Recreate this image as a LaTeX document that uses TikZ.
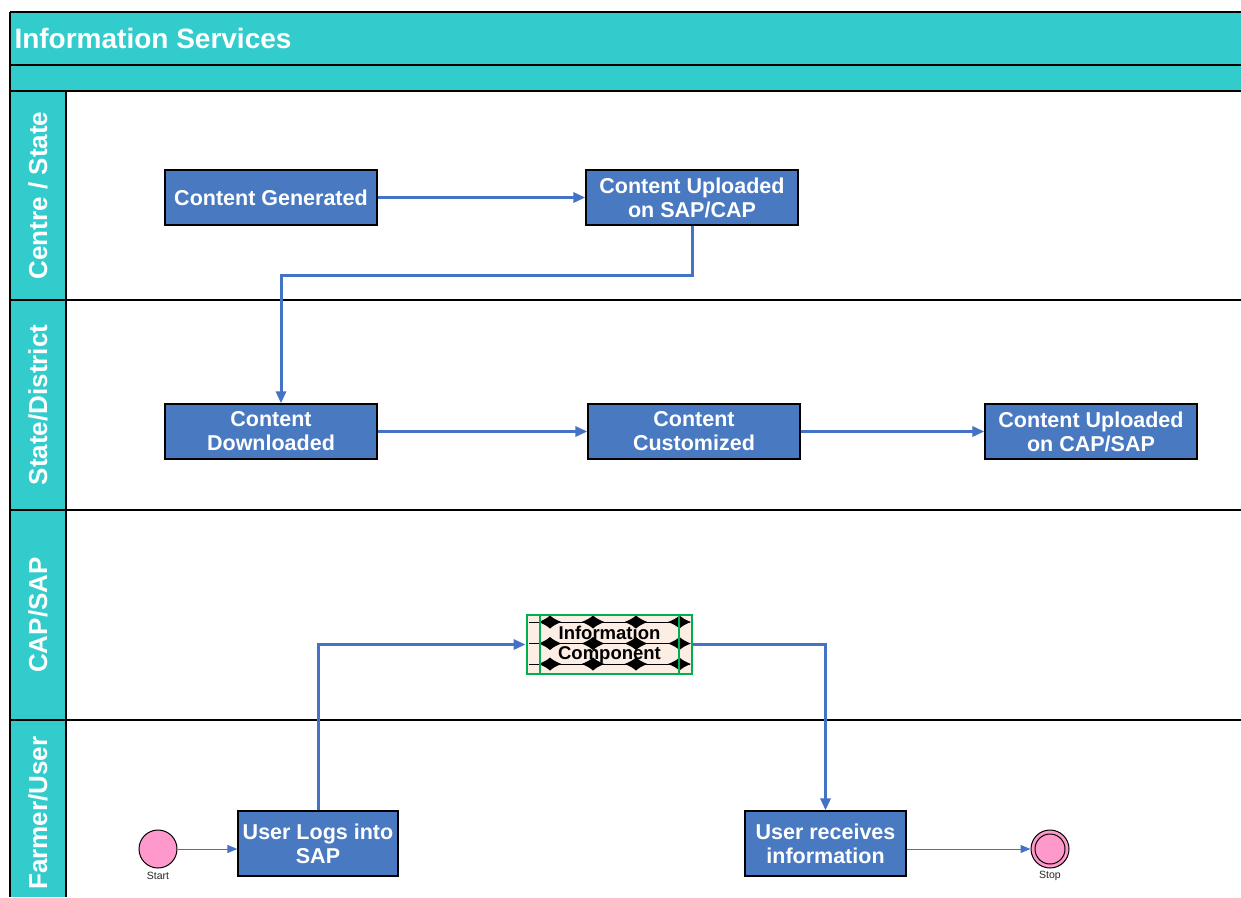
\documentclass[tikz,border=0pt]{standalone}
\usepackage{fontspec}
\setmainfont{Liberation Sans}
\usetikzlibrary{arrows.meta}
\definecolor{lanecyan}{RGB}{51,204,204}
\definecolor{taskblue}{RGB}{72,121,193}
\definecolor{flowblue}{RGB}{68,114,196}
\definecolor{eventpink}{RGB}{255,153,204}
\definecolor{compfill}{RGB}{252,238,228}
\definecolor{compgreen}{RGB}{0,176,80}

% four-point spark used in the sub-process pattern
\newcommand\spark[2]{%
  \fill[black] ({#1-11.5},#2) .. controls ({#1-6.5},{#2-1.8}) and ({#1-3},{#2-3.8}) .. (#1,{#2-6.5})
    .. controls ({#1+3},{#2-3.8}) and ({#1+6.5},{#2-1.8}) .. ({#1+11.5},#2)
    .. controls ({#1+6.5},{#2+1.8}) and ({#1+3},{#2+3.8}) .. (#1,{#2+6.5})
    .. controls ({#1-3},{#2+3.8}) and ({#1-6.5},{#2+1.8}) .. ({#1-11.5},#2) -- cycle;}

\begin{document}
\begin{tikzpicture}[x=1pt,y=-1pt,
  task/.style={draw=black, line width=1.3pt, fill=taskblue, text=white,
    font=\bfseries\fontsize{21.5}{24}\selectfont, minimum width=212pt,
    minimum height=55pt, inner sep=0pt, align=center},
  lanelabel/.style={rotate=90, text=white, font=\bfseries\fontsize{26}{30}\selectfont},
  flow/.style={draw=flowblue, line width=3pt, -{Triangle[length=12pt,width=10pt]}},
  minorflow/.style={draw=flowblue, line width=1pt, -{Triangle[length=10pt,width=8pt]}},
  event/.style={circle, draw=black, line width=1pt, fill=eventpink, minimum size=38pt, inner sep=0pt},
  eventlabel/.style={font=\fontsize{10.5}{12}\selectfont, text=black!85}]
\useasboundingbox (0,0) rectangle (1241,897);

% pool header and lane column
\fill[lanecyan] (10,12) rectangle (1241,91);
\fill[lanecyan] (10,91) rectangle (66,897);
\draw[line width=1.3pt] (10,12) -- (1241,12);
\draw[line width=1.3pt] (10,65) -- (1241,65);
\draw[line width=1.3pt] (10,91) -- (1241,91);
\draw[line width=1.3pt] (10,12) -- (10,897);
\draw[line width=1.3pt] (66,91) -- (66,897);
\foreach \yy in {300,510,720} \draw[line width=1.1pt] (10,\yy) -- (1241,\yy);

\node[anchor=west, text=white, font=\bfseries\fontsize{28}{32}\selectfont] (title) at (11,38) {Information Services};

\node[lanelabel] (laneA) at (38,195.5) {Centre / State};
\node[lanelabel] (laneB) at (38,405) {State/District};
\node[lanelabel] (laneC) at (38,615) {CAP/SAP};
\node[lanelabel] (laneD) at (38,813) {Farmer/User};

% tasks
\node[task] (cg) at (271,197.5) {Content Generated};
\node[task] (cu) at (692,197.5) {Content Uploaded\\on SAP/CAP};
\node[task] (cd) at (271,431.5) {Content\\Downloaded};
\node[task] (cc) at (694,431.5) {Content\\Customized};
\node[task] (cu2) at (1091,431.5) {Content Uploaded\\on CAP/SAP};
\node[task, minimum width=160pt, minimum height=65pt] (ul) at (318,843.5) {User Logs into\\SAP};
\node[task, minimum width=161pt, minimum height=65pt] (ur) at (825.5,843.5) {User receives\\information};

% collapsed sub-process: frame, pattern, side bars, caption
\node[draw=compgreen, line width=2.8pt, fill=compfill, minimum width=165pt, minimum height=59pt,
  inner sep=0pt] (ic) at (609.5,644.5) {};
\foreach \yy in {622,643.5,664} \draw[black, line width=0.6pt] (529,\yy) -- (690,\yy);
\begin{scope}
  \clip (540,616) rectangle (690.5,673);
  \foreach \yy in {622,643.5,664}
    \foreach \xx in {550,593,636,679.5} {\spark{\xx}{\yy}}
\end{scope}
\draw[compgreen, line width=2.8pt] (540,615) -- (540,674);
\draw[compgreen, line width=2.8pt] (679,615) -- (679,674);
\node[align=center, text=black, font=\bfseries\fontsize{18.5}{20}\selectfont, inner sep=0pt]
  (iccap) at (ic.center) {Information\\Component};

% events
\node[event] (start) at (158,849) {};
\node[eventlabel] (startlbl) at (158,876) {Start};
\node[event] (stop) at (1050,849) {};
\draw[line width=1pt] (stop.center) circle (15);
\node[eventlabel] (stoplbl) at (1050,876) {Stop};

% sequence flows
\draw[flow] (cg) -- (cu);
\draw[flow] (cu.south) -- (692,275) -| ([xshift=10pt]cd.north);
\draw[flow] (cd) -- (cc);
\draw[flow] (cc) -- (cu2);
\draw[flow] (ul.north) |- (ic.west);
\draw[flow] (ic.east) -| (ur.north);
\draw[minorflow] (start.east) -- (start.east -| ul.west);
\draw[minorflow] (ur.east |- stop.west) -- (stop.west);
\end{tikzpicture}
\end{document}
